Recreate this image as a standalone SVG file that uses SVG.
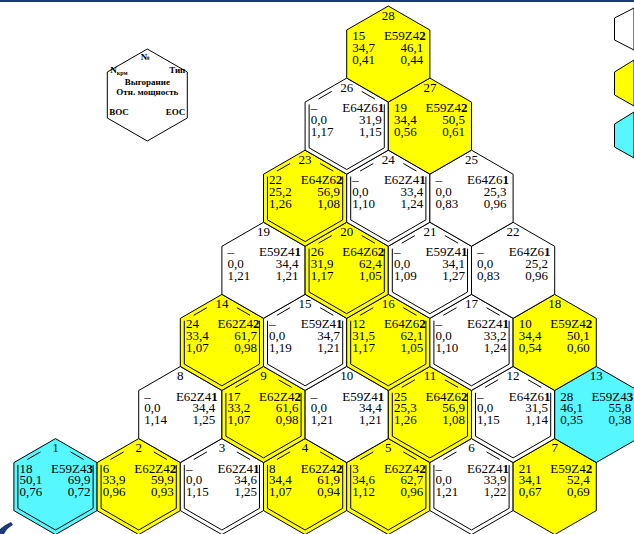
<svg xmlns="http://www.w3.org/2000/svg" xmlns:xlink="http://www.w3.org/1999/xlink" width="634" height="534" viewBox="0 0 634 534">
<style>
.hx{stroke:#000;stroke-width:1}
.w{fill:#fff}.y{fill:#ffff00}.c{fill:#57f7ff}
.in{fill:none;stroke:#000;stroke-width:1}
text{font-family:"Liberation Serif","Times New Roman",serif;font-size:13px;fill:#000}
.e{text-anchor:end}.m{text-anchor:middle}.b{font-weight:bold}
.lg{font-size:9px;font-weight:bold}
</style>
<defs>
<polygon id="hx" points="0,-48 41.6,-24 41.6,24 0,48 -41.6,24 -41.6,-24"/>
<path id="inr" d="M-37.6,-21.7V21.7L0,43.4L37.6,21.7V-21.7M-28.2,-27.1L-15,-34.7M28.2,-27.1L15,-34.7"/>
</defs>
<rect x="0" y="0" width="634" height="534" fill="#fff"/>
<rect x="0" y="0" width="634" height="2" fill="#1a3a78"/>
<g id="connectors"/>
<g id="hex-1" transform="translate(55.5,486.6)"><use xlink:href="#hx" class="hx c"/><use xlink:href="#inr" class="in"/><text class="m" y="-34.5">1</text><text x="-36" y="-14">18</text><text class="e" x="37.5" y="-14">E59Z4<tspan class="b">3</tspan></text><text x="-36" y="-2.5">50,1</text><text class="e" x="35" y="-2.5">69,9</text><text x="-36" y="9.5">0,76</text><text class="e" x="35" y="9.5">0,72</text></g>
<g id="hex-2" transform="translate(138.7,486.6)"><use xlink:href="#hx" class="hx y"/><use xlink:href="#inr" class="in"/><text class="m" y="-34.5">2</text><text x="-36" y="-14">6</text><text class="e" x="37.5" y="-14">E62Z4<tspan class="b">2</tspan></text><text x="-36" y="-2.5">33,9</text><text class="e" x="35" y="-2.5">59,9</text><text x="-36" y="9.5">0,96</text><text class="e" x="35" y="9.5">0,93</text></g>
<g id="hex-3" transform="translate(221.9,486.6)"><use xlink:href="#hx" class="hx w"/><use xlink:href="#inr" class="in"/><text class="m" y="-34.5">3</text><text x="-36" y="-14">–</text><text class="e" x="37.5" y="-14">E62Z4<tspan class="b">1</tspan></text><text x="-36" y="-2.5">0,0</text><text class="e" x="35" y="-2.5">34,6</text><text x="-36" y="9.5">1,15</text><text class="e" x="35" y="9.5">1,25</text></g>
<g id="hex-4" transform="translate(305.1,486.6)"><use xlink:href="#hx" class="hx y"/><use xlink:href="#inr" class="in"/><text class="m" y="-34.5">4</text><text x="-36" y="-14">8</text><text class="e" x="37.5" y="-14">E62Z4<tspan class="b">2</tspan></text><text x="-36" y="-2.5">34,4</text><text class="e" x="35" y="-2.5">61,9</text><text x="-36" y="9.5">1,07</text><text class="e" x="35" y="9.5">0,94</text></g>
<g id="hex-5" transform="translate(388.3,486.6)"><use xlink:href="#hx" class="hx y"/><use xlink:href="#inr" class="in"/><text class="m" y="-34.5">5</text><text x="-36" y="-14">3</text><text class="e" x="37.5" y="-14">E62Z4<tspan class="b">2</tspan></text><text x="-36" y="-2.5">34,6</text><text class="e" x="35" y="-2.5">62,7</text><text x="-36" y="9.5">1,12</text><text class="e" x="35" y="9.5">0,96</text></g>
<g id="hex-6" transform="translate(471.5,486.6)"><use xlink:href="#hx" class="hx w"/><use xlink:href="#inr" class="in"/><text class="m" y="-34.5">6</text><text x="-36" y="-14">–</text><text class="e" x="37.5" y="-14">E62Z4<tspan class="b">1</tspan></text><text x="-36" y="-2.5">0,0</text><text class="e" x="35" y="-2.5">33,9</text><text x="-36" y="9.5">1,21</text><text class="e" x="35" y="9.5">1,22</text></g>
<g id="hex-7" transform="translate(554.7,486.6)"><use xlink:href="#hx" class="hx y"/><text class="m" y="-34.5">7</text><text x="-36" y="-14">21</text><text class="e" x="37.5" y="-14">E59Z4<tspan class="b">2</tspan></text><text x="-36" y="-2.5">34,1</text><text class="e" x="35" y="-2.5">52,4</text><text x="-36" y="9.5">0,67</text><text class="e" x="35" y="9.5">0,69</text></g>
<g id="hex-8" transform="translate(180.3,414.5)"><use xlink:href="#hx" class="hx w"/><text class="m" y="-34.5">8</text><text x="-36" y="-14">–</text><text class="e" x="37.5" y="-14">E62Z4<tspan class="b">1</tspan></text><text x="-36" y="-2.5">0,0</text><text class="e" x="35" y="-2.5">34,4</text><text x="-36" y="9.5">1,14</text><text class="e" x="35" y="9.5">1,25</text></g>
<g id="hex-9" transform="translate(263.5,414.5)"><use xlink:href="#hx" class="hx y"/><use xlink:href="#inr" class="in"/><text class="m" y="-34.5">9</text><text x="-36" y="-14">17</text><text class="e" x="37.5" y="-14">E62Z4<tspan class="b">2</tspan></text><text x="-36" y="-2.5">33,2</text><text class="e" x="35" y="-2.5">61,6</text><text x="-36" y="9.5">1,07</text><text class="e" x="35" y="9.5">0,98</text></g>
<g id="hex-10" transform="translate(346.7,414.5)"><use xlink:href="#hx" class="hx w"/><text class="m" y="-34.5">10</text><text x="-36" y="-14">–</text><text class="e" x="37.5" y="-14">E59Z4<tspan class="b">1</tspan></text><text x="-36" y="-2.5">0,0</text><text class="e" x="35" y="-2.5">34,4</text><text x="-36" y="9.5">1,21</text><text class="e" x="35" y="9.5">1,21</text></g>
<g id="hex-11" transform="translate(429.9,414.5)"><use xlink:href="#hx" class="hx y"/><use xlink:href="#inr" class="in"/><text class="m" y="-34.5">11</text><text x="-36" y="-14">25</text><text class="e" x="37.5" y="-14">E64Z6<tspan class="b">2</tspan></text><text x="-36" y="-2.5">25,3</text><text class="e" x="35" y="-2.5">56,9</text><text x="-36" y="9.5">1,26</text><text class="e" x="35" y="9.5">1,08</text></g>
<g id="hex-12" transform="translate(513.1,414.5)"><use xlink:href="#hx" class="hx w"/><use xlink:href="#inr" class="in"/><text class="m" y="-34.5">12</text><text x="-36" y="-14">–</text><text class="e" x="37.5" y="-14">E64Z6<tspan class="b">1</tspan></text><text x="-36" y="-2.5">0,0</text><text class="e" x="35" y="-2.5">31,5</text><text x="-36" y="9.5">1,15</text><text class="e" x="35" y="9.5">1,14</text></g>
<g id="hex-13" transform="translate(596.3,414.5)"><use xlink:href="#hx" class="hx c"/><text class="m" y="-34.5">13</text><text x="-36" y="-14">28</text><text class="e" x="37" y="-14">E59Z4<tspan class="b">3</tspan></text><text x="-36" y="-2.5">46,1</text><text class="e" x="35" y="-2.5">55,8</text><text x="-36" y="9.5">0,35</text><text class="e" x="35" y="9.5">0,38</text></g>
<g id="hex-14" transform="translate(221.9,342.4)"><use xlink:href="#hx" class="hx y"/><use xlink:href="#inr" class="in"/><text class="m" y="-34.5">14</text><text x="-36" y="-14">24</text><text class="e" x="37.5" y="-14">E62Z4<tspan class="b">2</tspan></text><text x="-36" y="-2.5">33,4</text><text class="e" x="35" y="-2.5">61,7</text><text x="-36" y="9.5">1,07</text><text class="e" x="35" y="9.5">0,98</text></g>
<g id="hex-15" transform="translate(305.1,342.4)"><use xlink:href="#hx" class="hx w"/><use xlink:href="#inr" class="in"/><text class="m" y="-34.5">15</text><text x="-36" y="-14">–</text><text class="e" x="37.5" y="-14">E59Z4<tspan class="b">1</tspan></text><text x="-36" y="-2.5">0,0</text><text class="e" x="35" y="-2.5">34,7</text><text x="-36" y="9.5">1,19</text><text class="e" x="35" y="9.5">1,21</text></g>
<g id="hex-16" transform="translate(388.3,342.4)"><use xlink:href="#hx" class="hx y"/><use xlink:href="#inr" class="in"/><text class="m" y="-34.5">16</text><text x="-36" y="-14">12</text><text class="e" x="37.5" y="-14">E64Z6<tspan class="b">2</tspan></text><text x="-36" y="-2.5">31,5</text><text class="e" x="35" y="-2.5">62,1</text><text x="-36" y="9.5">1,17</text><text class="e" x="35" y="9.5">1,05</text></g>
<g id="hex-17" transform="translate(471.5,342.4)"><use xlink:href="#hx" class="hx w"/><use xlink:href="#inr" class="in"/><text class="m" y="-34.5">17</text><text x="-36" y="-14">–</text><text class="e" x="37.5" y="-14">E62Z4<tspan class="b">1</tspan></text><text x="-36" y="-2.5">0,0</text><text class="e" x="35" y="-2.5">33,2</text><text x="-36" y="9.5">1,10</text><text class="e" x="35" y="9.5">1,24</text></g>
<g id="hex-18" transform="translate(554.7,342.4)"><use xlink:href="#hx" class="hx y"/><text class="m" y="-34.5">18</text><text x="-36" y="-14">10</text><text class="e" x="37.5" y="-14">E59Z4<tspan class="b">2</tspan></text><text x="-36" y="-2.5">34,4</text><text class="e" x="35" y="-2.5">50,1</text><text x="-36" y="9.5">0,54</text><text class="e" x="35" y="9.5">0,60</text></g>
<g id="hex-19" transform="translate(263.5,270.3)"><use xlink:href="#hx" class="hx w"/><text class="m" y="-34.5">19</text><text x="-36" y="-14">–</text><text class="e" x="37.5" y="-14">E59Z4<tspan class="b">1</tspan></text><text x="-36" y="-2.5">0,0</text><text class="e" x="35" y="-2.5">34,4</text><text x="-36" y="9.5">1,21</text><text class="e" x="35" y="9.5">1,21</text></g>
<g id="hex-20" transform="translate(346.7,270.3)"><use xlink:href="#hx" class="hx y"/><use xlink:href="#inr" class="in"/><text class="m" y="-34.5">20</text><text x="-36" y="-14">26</text><text class="e" x="37.5" y="-14">E64Z6<tspan class="b">2</tspan></text><text x="-36" y="-2.5">31,9</text><text class="e" x="35" y="-2.5">62,4</text><text x="-36" y="9.5">1,17</text><text class="e" x="35" y="9.5">1,05</text></g>
<g id="hex-21" transform="translate(429.9,270.3)"><use xlink:href="#hx" class="hx w"/><use xlink:href="#inr" class="in"/><text class="m" y="-34.5">21</text><text x="-36" y="-14">–</text><text class="e" x="37.5" y="-14">E59Z4<tspan class="b">1</tspan></text><text x="-36" y="-2.5">0,0</text><text class="e" x="35" y="-2.5">34,1</text><text x="-36" y="9.5">1,09</text><text class="e" x="35" y="9.5">1,27</text></g>
<g id="hex-22" transform="translate(513.1,270.3)"><use xlink:href="#hx" class="hx w"/><text class="m" y="-34.5">22</text><text x="-36" y="-14">–</text><text class="e" x="37.5" y="-14">E64Z6<tspan class="b">1</tspan></text><text x="-36" y="-2.5">0,0</text><text class="e" x="35" y="-2.5">25,2</text><text x="-36" y="9.5">0,83</text><text class="e" x="35" y="9.5">0,96</text></g>
<g id="hex-23" transform="translate(305.1,198.2)"><use xlink:href="#hx" class="hx y"/><use xlink:href="#inr" class="in"/><text class="m" y="-34.5">23</text><text x="-36" y="-14">22</text><text class="e" x="37.5" y="-14">E64Z6<tspan class="b">2</tspan></text><text x="-36" y="-2.5">25,2</text><text class="e" x="35" y="-2.5">56,9</text><text x="-36" y="9.5">1,26</text><text class="e" x="35" y="9.5">1,08</text></g>
<g id="hex-24" transform="translate(388.3,198.2)"><use xlink:href="#hx" class="hx w"/><use xlink:href="#inr" class="in"/><text class="m" y="-34.5">24</text><text x="-36" y="-14">–</text><text class="e" x="37.5" y="-14">E62Z4<tspan class="b">1</tspan></text><text x="-36" y="-2.5">0,0</text><text class="e" x="35" y="-2.5">33,4</text><text x="-36" y="9.5">1,10</text><text class="e" x="35" y="9.5">1,24</text></g>
<g id="hex-25" transform="translate(471.5,198.2)"><use xlink:href="#hx" class="hx w"/><text class="m" y="-34.5">25</text><text x="-36" y="-14">–</text><text class="e" x="37.5" y="-14">E64Z6<tspan class="b">1</tspan></text><text x="-36" y="-2.5">0,0</text><text class="e" x="35" y="-2.5">25,3</text><text x="-36" y="9.5">0,83</text><text class="e" x="35" y="9.5">0,96</text></g>
<g id="hex-26" transform="translate(346.7,126.1)"><use xlink:href="#hx" class="hx w"/><use xlink:href="#inr" class="in"/><text class="m" y="-34.5">26</text><text x="-36" y="-14">–</text><text class="e" x="37.5" y="-14">E64Z6<tspan class="b">1</tspan></text><text x="-36" y="-2.5">0,0</text><text class="e" x="35" y="-2.5">31,9</text><text x="-36" y="9.5">1,17</text><text class="e" x="35" y="9.5">1,15</text></g>
<g id="hex-27" transform="translate(429.9,126.1)"><use xlink:href="#hx" class="hx y"/><text class="m" y="-34.5">27</text><text x="-36" y="-14">19</text><text class="e" x="37.5" y="-14">E59Z4<tspan class="b">2</tspan></text><text x="-36" y="-2.5">34,4</text><text class="e" x="35" y="-2.5">50,5</text><text x="-36" y="9.5">0,56</text><text class="e" x="35" y="9.5">0,61</text></g>
<g id="hex-28" transform="translate(388.3,54)"><use xlink:href="#hx" class="hx y"/><text class="m" y="-34.5">28</text><text x="-36" y="-14">15</text><text class="e" x="37.5" y="-14">E59Z4<tspan class="b">2</tspan></text><text x="-36" y="-2.5">34,7</text><text class="e" x="35" y="-2.5">46,1</text><text x="-36" y="9.5">0,41</text><text class="e" x="35" y="9.5">0,44</text></g>
<g id="legend" transform="translate(147.3,95)">
<polygon points="0,-46 40,-23 40,23 0,46 -40,23 -40,-23" fill="#fff" stroke="#000" stroke-width="1"/>
<text class="lg m" x="-2" y="-35">№</text>
<text class="lg" x="-37" y="-22">N<tspan font-size="6" dy="2">крм</tspan></text>
<text class="lg e" x="38" y="-22">Тип</text>
<text class="lg m" y="-10">Выгорание</text>
<text class="lg m" y="0">Отн. мощность</text>
<text class="lg" x="-38" y="20">BOC</text>
<text class="lg e" x="38" y="20">EOC</text>
</g>
<g id="legend-white"><polygon points="634,8 614.5,18 614.5,40 634,50" fill="#fff" stroke="#000" stroke-width="1"/></g>
<g id="legend-yellow"><polygon points="634,60 614.5,72 614.5,95 634,106" fill="#ffff00" stroke="#000" stroke-width="1"/></g>
<g id="legend-cyan"><polygon points="634,112 614.5,124 614.5,147 634,158" fill="#57f7ff" stroke="#000" stroke-width="1"/></g>
<path d="M0,534V529Q4,525 11,522L13,525Q7,528 4,534Z" fill="#1a3a78"/>
</svg>
